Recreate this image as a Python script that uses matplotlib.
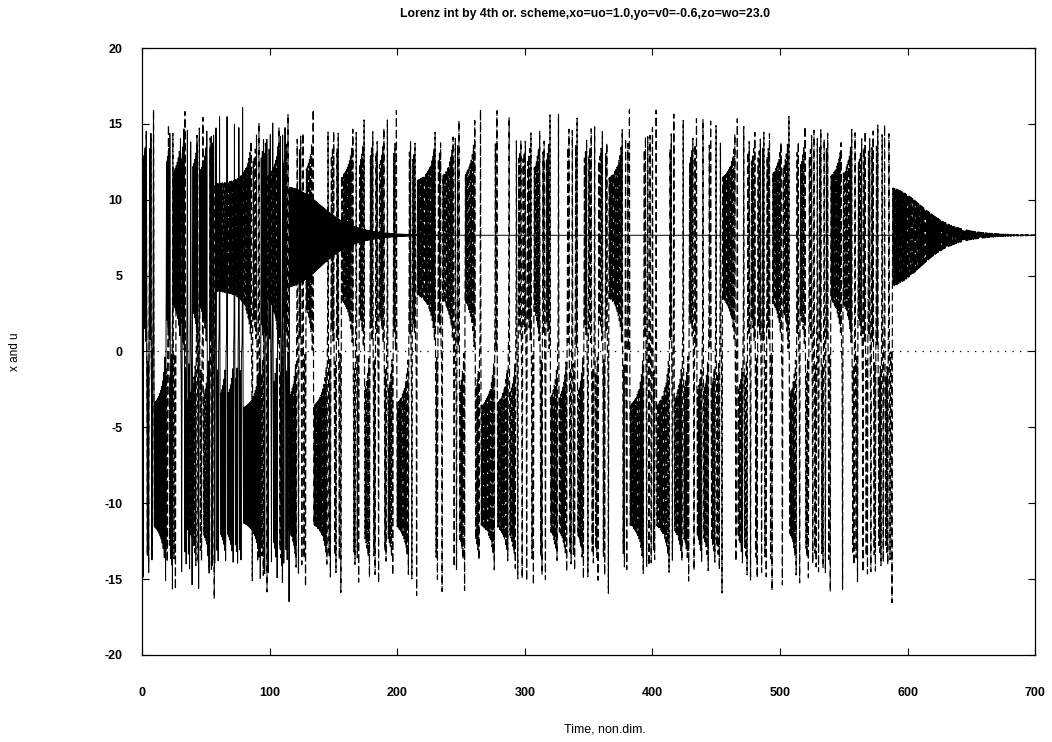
import numpy as np
import matplotlib
matplotlib.use('Agg')
import matplotlib.pyplot as plt

# Lorenz run, values read from the title / picture
sigma = 10.0
r_par = 23.0          # fixed point at ~7.66 -> r = 23
beta = 8.0 / 3.0
x0, y0, z0 = 1.0, -0.6, 23.0
dt_x = 0.01074        # step of the solid (x) run, settles after t~115
dt_u = 0.01498        # step of the dashed (u) run, settles after t~590
t_end = 700.0

title = "Lorenz int by 4th or. scheme,xo=uo=1.0,yo=v0=-0.6,zo=wo=23.0"
xlabel = "Time, non.dim."
ylabel = "x and u"
xticks = [0, 100, 200, 300, 400, 500, 600, 700]
yticks = [-20, -15, -10, -5, 0, 5, 10, 15, 20]


def rhs(x, y, z):
    return sigma * (y - x), x * (r_par - z) - y, x * y - beta * z


def rk4(dt):
    n = int(t_end / dt)
    out = np.empty(n + 1)
    x, y, z = x0, y0, z0
    out[0] = x
    for k in range(1, n + 1):
        a1, b1, c1 = rhs(x, y, z)
        a2, b2, c2 = rhs(x + 0.5*dt*a1, y + 0.5*dt*b1, z + 0.5*dt*c1)
        a3, b3, c3 = rhs(x + 0.5*dt*a2, y + 0.5*dt*b2, z + 0.5*dt*c2)
        a4, b4, c4 = rhs(x + dt*a3, y + dt*b3, z + dt*c3)
        x += dt/6*(a1 + 2*a2 + 2*a3 + a4)
        y += dt/6*(b1 + 2*b2 + 2*b3 + b4)
        z += dt/6*(c1 + 2*c2 + 2*c3 + c4)
        out[k] = x
    return np.arange(n + 1) * dt, out


tx, xs = rk4(dt_x)
tu, us = rk4(dt_u)

plt.rcParams['font.family'] = ['Liberation Sans', 'DejaVu Sans']
plt.rcParams['axes.unicode_minus'] = False
fig = plt.figure(figsize=(10.52, 7.42), dpi=100)
ax = fig.add_axes([0.135, 0.1173, 0.849, 0.818])

ax.axhline(0, color='black', lw=0.9, ls=(0, (1, 5)), zorder=1)
ax.plot(tx, xs, color='black', lw=0.7, zorder=2)
ax.plot(tu, us, color='black', lw=0.85, ls=(0, (7, 3)), zorder=3)

ax.set_xlim(0, 700)
ax.set_ylim(-20, 20)
ax.set_xticks(xticks)
ax.set_yticks(yticks)
ax.tick_params(direction='in', top=True, right=True, length=5, width=0.8,
               labelsize=9)
ax.tick_params(axis='x', pad=23)
ax.tick_params(axis='y', pad=14)
for lab in ax.get_xticklabels() + ax.get_yticklabels():
    lab.set_fontweight('bold')
for sp in ax.spines.values():
    sp.set_linewidth(0.9)

fig.text(605 / 1052, 1 - 729 / 742, xlabel, ha='center', va='center',
         fontsize=9)
fig.text(15 / 1052, 1 - 352 / 742, ylabel, ha='center', va='center',
         fontsize=8.5, rotation=90)
fig.text(585 / 1052, 1 - 14 / 742, title, ha='center', va='center',
         fontsize=8.8, fontweight='bold')

fig.savefig('out.png')
